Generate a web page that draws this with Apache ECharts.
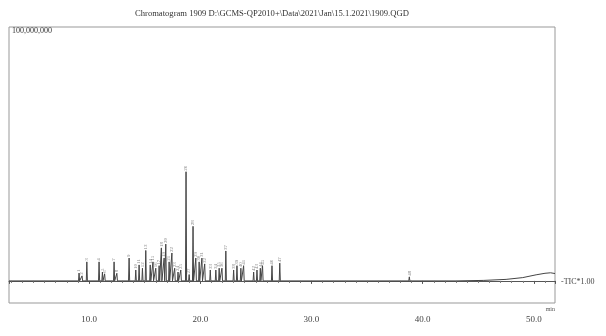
<!DOCTYPE html>
<html>
<head>
<meta charset="utf-8">
<script src="https://cdn.jsdelivr.net/npm/echarts@6/dist/echarts.min.js"></script>
<style>
  html, body { margin: 0; padding: 0; background: #fff; }
  #chart { width: 606px; height: 336px; }
</style>
</head>
<body>
<div id="chart"></div>
<script>
// retention times (min) and peak heights (millions of counts)
const peakTimes = [9.1, 9.37, 9.8, 10.9, 11.2, 11.4, 12.25, 12.5, 13.6, 14.2, 14.5, 14.8,
  15.1, 15.5, 15.75, 16.0, 16.3, 16.5, 16.75, 16.9, 17.2, 17.45, 17.7, 18.0, 18.25,
  18.72, 19.0, 19.35, 19.6, 19.9, 20.15, 20.4, 20.9, 21.4, 21.7, 21.95, 22.3, 23.0,
  23.3, 23.65, 23.9, 24.8, 25.1, 25.4, 25.6, 26.45, 27.15, 38.8];
const peakHeights = [3.1, 2.0, 7.5, 7.5, 3.5, 2.8, 7.5, 3.0, 9.0, 4.3, 6.3, 5.0,
  12.0, 6.3, 7.5, 5.0, 6.0, 13.0, 9.0, 14.5, 7.5, 11.0, 5.0, 3.5, 4.3,
  43.0, 2.5, 21.5, 9.0, 7.5, 9.0, 6.7, 4.3, 4.3, 5.0, 5.0, 11.8, 4.3,
  6.0, 5.0, 6.0, 3.5, 4.3, 5.0, 6.0, 6.0, 7.0, 1.6];
// baseline drift at the end of the run
const baseTimes = [2.8, 43.0, 45.5, 47.5, 49.0, 50.2, 51.0, 51.5, 51.9];
const baseValues = [0, 0, 0.2, 0.6, 1.3, 2.4, 3.0, 3.2, 2.9];

const halfWidth = 0.05;
let points = baseTimes.map((t, i) => [t, baseValues[i]]);
peakTimes.forEach((t, i) => {
    points.push([t - halfWidth, 0]);
    points.push([t, peakHeights[i]]);
    points.push([t + halfWidth, 0]);
});
points.sort((a, b) => a[0] - b[0]);

const chart = echarts.init(document.getElementById('chart'));
chart.setOption({
    animation: false,
    title: {
        text: 'Chromatogram 1909 D:\\GCMS-QP2010+\\Data\\2021\\Jan\\15.1.2021\\1909.QGD',
        left: 130,
        top: 4,
        textStyle: {
            fontFamily: 'Liberation Serif',
            fontSize: 8.6,
            fontWeight: 'normal',
            color: '#333'
        }
    },
    grid: {
        left: 9,
        right: 51,
        top: 27,
        bottom: 33,
        show: true,
        borderColor: '#999',
        borderWidth: 1
    },
    xAxis: {
        type: 'value',
        min: 2.8,
        max: 51.9,
        splitNumber: 5,
        name: 'min',
        nameLocation: 'end',
        nameGap: 0,
        nameTextStyle: {
            fontFamily: 'Liberation Serif',
            fontSize: 6,
            color: '#555',
            align: 'right',
            verticalAlign: 'top',
            padding: [26, 0, 0, 0]
        },
        axisLine: { lineStyle: { color: '#555', width: 1 } },
        axisTick: { show: true, length: 3, lineStyle: { color: '#555' } },
        minorTick: { show: true, splitNumber: 10, length: 2, lineStyle: { color: '#777' } },
        splitLine: { show: false },
        axisLabel: {
            showMinLabel: false,
            showMaxLabel: false,
            margin: 12,
            fontFamily: 'Liberation Serif',
            fontSize: 9,
            color: '#444',
            formatter: v => v.toFixed(1)
        }
    },
    yAxis: {
        type: 'value',
        min: -8.7,
        max: 100,
        axisLine: { show: false },
        axisTick: { show: false },
        splitLine: { show: false },
        axisLabel: {
            inside: true,
            showMinLabel: false,
            showMaxLabel: true,
            verticalAlign: 'top',
            margin: 3,
            fontFamily: 'Liberation Serif',
            fontSize: 8,
            color: '#333',
            formatter: v => (v === 100 ? '100,000,000' : '')
        }
    },
    series: [
        {
            type: 'line',
            data: points,
            showSymbol: false,
            lineStyle: { color: '#444', width: 1 },
            endLabel: {
                show: true,
                formatter: '-TIC*1.00',
                fontFamily: 'Liberation Serif',
                fontSize: 8,
                color: '#444',
                offset: [-2, 8]
            }
        },
        {
            // peak numbers
            type: 'scatter',
            data: peakTimes.map((t, i) => [t, peakHeights[i]]),
            symbolSize: 0,
            label: {
                show: true,
                position: 'top',
                distance: 1,
                rotate: 90,
                align: 'left',
                verticalAlign: 'middle',
                fontFamily: 'Liberation Serif',
                fontSize: 5,
                color: '#666',
                formatter: p => String(p.dataIndex + 1)
            }
        }
    ]
});
</script>
</body>
</html>
